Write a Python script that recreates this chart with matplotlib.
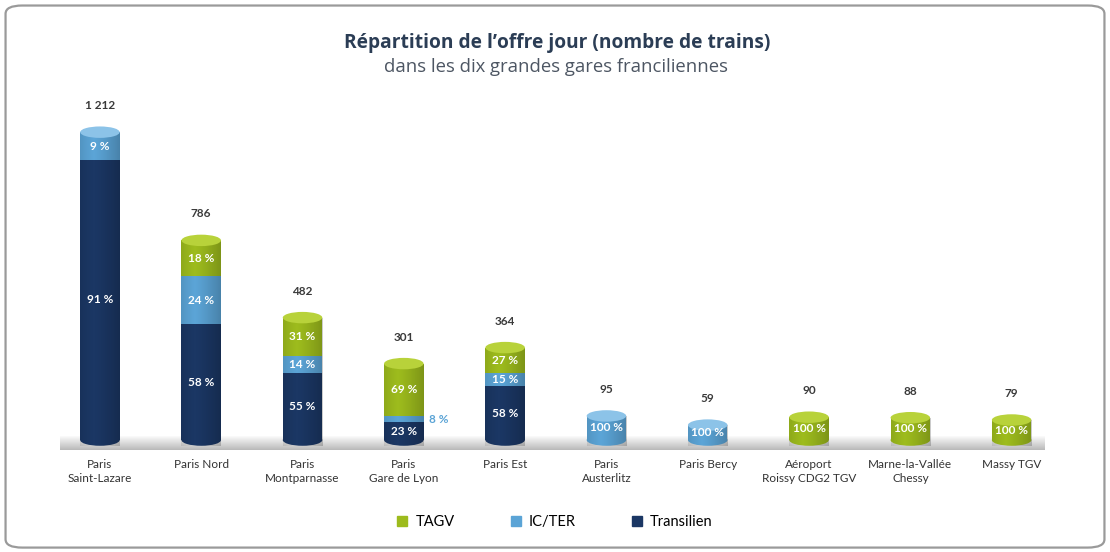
import numpy as np
import matplotlib
matplotlib.use('Agg')
import matplotlib.pyplot as plt
from matplotlib.patches import Ellipse, Rectangle, FancyBboxPatch
from matplotlib.lines import Line2D

# data
stations = ['Paris\nSaint-Lazare', 'Paris Nord', 'Paris\nMontparnasse', 'Paris\nGare de Lyon',
            'Paris Est', 'Paris\nAusterlitz', 'Paris Bercy', 'Aéroport\nRoissy CDG2 TGV',
            'Marne-la-Vallée\nChessy', 'Massy TGV']
totals = [1212, 786, 482, 301, 364, 95, 59, 90, 88, 79]
transilien_pct = [91, 58, 55, 23, 58, 0, 0, 0, 0, 0]
icter_pct = [9, 24, 14, 8, 15, 100, 100, 0, 0, 0]
tagv_pct = [0, 18, 31, 69, 27, 0, 0, 100, 100, 100]
series = ['Transilien', 'IC/TER', 'TAGV']

colors = {'Transilien': '#1b3764', 'IC/TER': '#5ba4d6', 'TAGV': '#9dbb1d'}
caps = {'Transilien': '#2c4d82', 'IC/TER': '#8cc3e8', 'TAGV': '#b8d23a'}

narrow = ['Lato', 'DejaVu Sans']
plt.rcParams['font.family'] = ['Open Sans', 'DejaVu Sans']

fig = plt.figure(figsize=(11.1, 5.52), dpi=100)
fig.patch.set_facecolor('white')

# rounded frame
frame = FancyBboxPatch((0.005, 0.008), 0.99, 0.982, boxstyle='round,pad=0,rounding_size=0.015',
                       transform=fig.transFigure, facecolor='white', edgecolor='#9a9a9a',
                       linewidth=1.6, zorder=-5)
fig.patches.append(frame)

ax = fig.add_axes([0.0444, 100 / 552, 0.9126, 362 / 552], zorder=2)
ax.set_xlim(-0.5, 9.5)
ax.set_ylim(-47, 1378)
ax.axis('off')
ax.patch.set_alpha(0)

# floor band
grad = np.linspace(0, 1, 64).reshape(-1, 1)
ax.imshow(grad, cmap=matplotlib.colors.LinearSegmentedColormap.from_list('fl', ['#fbfbfb', '#b9b9b9']),
          extent=(-0.39, 9.33, -40, 14), origin='upper', aspect='auto', zorder=1)

w = 0.39
cap_h = 45
shade = np.linspace(0, 1, 100)
shade = 0.35 * np.abs(shade - 0.35) ** 1.2
shade_cmap = matplotlib.colors.LinearSegmentedColormap.from_list('sh', [(0, 0, 0, 0), (0, 0, 0, 1)])

pcts = {'Transilien': transilien_pct, 'IC/TER': icter_pct, 'TAGV': tagv_pct}
for i, tot in enumerate(totals):
    bottom = 0
    segs = []
    for s in series:
        p = pcts[s][i]
        if p == 0:
            continue
        h = tot * p / 100
        segs.append((s, bottom, h, p))
        bottom += h
    # body
    for k, (s, b, h, p) in enumerate(segs):
        if k == 0:
            ax.add_patch(Ellipse((i, b), w, cap_h, facecolor=colors[s], edgecolor='none', zorder=3))
        ax.bar(i, h, w, bottom=b, color=colors[s], zorder=3)
    # shading across the cylinder
    im = ax.imshow(shade.reshape(1, -1), cmap=shade_cmap, vmin=0, vmax=1,
                   extent=(i - w / 2, i + w / 2, -cap_h / 2, tot), aspect='auto', zorder=4)
    clip = Rectangle((i - w / 2, -cap_h / 2), w, tot + cap_h / 2, transform=ax.transData)
    im.set_clip_path(clip)
    top_s = segs[-1][0]
    ax.add_patch(Ellipse((i, tot), w, cap_h, facecolor=caps[top_s], edgecolor='none', zorder=5))
    # labels
    for s, b, h, p in segs:
        if i == 3 and s == 'IC/TER':
            ax.text(i + 0.34, b + h / 2, f'{p} %', color=colors[s], fontsize=8.5,
                    fontweight='bold', ha='center', va='center', family=narrow, zorder=6)
            continue
        ax.text(i, b + h / 2, f'{p} %', color='white', fontsize=8.5, fontweight='bold',
                ha='center', va='center', family=narrow, zorder=6)
    lab = f'{tot:,}'.replace(',', ' ')
    ax.annotate(lab, (i, tot), xytext=(0, 19), textcoords='offset points', ha='center',
                va='center', fontsize=8.5, fontweight='bold', color='#3a3a3a', family=narrow)
    ax.text(i, -75, stations[i], ha='center', va='top', fontsize=8.5, color='#333333',
            family=narrow, linespacing=1.3)

fig.text(0.502, 0.922, 'Répartition de l\u2019offre jour (nombre de trains)', ha='center',
         va='center', fontsize=13.8, fontweight='bold', color='#2b3d55')
fig.text(0.501, 0.879, 'dans les dix grandes gares franciliennes', ha='center', va='center',
         fontsize=13.3, color='#4d5663')

handles = [Line2D([], [], marker='s', linestyle='none', markersize=6.5, color=colors[s])
           for s in ['TAGV', 'IC/TER', 'Transilien']]
fig.legend(handles, ['TAGV', 'IC/TER', 'Transilien'], loc='center', bbox_to_anchor=(0.499, 0.054),
           ncol=3, frameon=False, columnspacing=3.7, handletextpad=0.4, handlelength=1,
           prop={'family': narrow, 'size': 10.5})

fig.savefig('out.png', dpi=100)
